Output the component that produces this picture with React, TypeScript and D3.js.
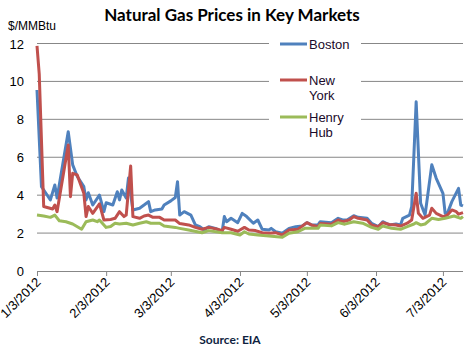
import React, { useEffect, useRef } from 'react';
import * as d3 from 'd3';

// dates are M/D in 2012
const bostonDates = ['1/3', '1/5', '1/7', '1/9', '1/11', '1/12', '1/17', '1/19', '1/21', '1/24', '1/25', '1/26', '1/28', '1/31', '2/2', '2/3', '2/6', '2/8', '2/9', '2/10', '2/12', '2/13', '2/15', '2/18', '2/20', '2/22', '2/23', '2/25', '2/28', '2/29', '3/3', '3/5', '3/6', '3/7', '3/9', '3/12', '3/14', '3/16', '3/18', '3/20', '3/23', '3/26', '3/27', '3/28', '3/30', '4/2', '4/4', '4/6', '4/9', '4/11', '4/13', '4/16', '4/17', '4/19', '4/22', '4/25', '4/28', '5/1', '5/3', '5/5', '5/8', '5/9', '5/14', '5/17', '5/19', '5/21', '5/24', '5/26', '5/30', '6/1', '6/4', '6/6', '6/9', '6/12', '6/14', '6/15', '6/18', '6/19', '6/21', '6/23', '6/25', '6/28', '6/30', '7/3', '7/4', '7/5', '7/7', '7/10', '7/11', '7/12'];
const bostonValues = [9.55, 4.45, 4.1, 3.75, 4.54, 3.85, 7.35, 5.6, 5.0, 4.45, 3.75, 4.13, 3.48, 4.0, 3.13, 3.6, 3.48, 4.18, 3.75, 4.27, 3.85, 4.9, 3.22, 3.31, 3.48, 3.66, 3.13, 3.22, 3.27, 3.48, 3.7, 3.88, 4.71, 2.95, 3.13, 2.95, 2.43, 2.34, 2.16, 2.34, 2.25, 2.07, 2.87, 2.6, 2.78, 2.55, 3.04, 2.87, 2.52, 2.69, 2.2, 2.16, 2.25, 2.07, 1.99, 2.25, 2.34, 2.38, 2.55, 2.43, 2.43, 2.6, 2.55, 2.78, 2.69, 2.69, 2.92, 2.83, 2.78, 2.52, 2.34, 2.6, 2.43, 2.48, 2.43, 2.78, 2.95, 3.4, 8.93, 3.57, 2.95, 5.6, 4.89, 4.1, 3.04, 3.04, 3.66, 4.36, 3.48, 3.43];

const newYorkDates = ['1/3', '1/4', '1/6', '1/10', '1/11', '1/12', '1/17', '1/18', '1/19', '1/21', '1/24', '1/25', '1/26', '1/28', '1/31', '2/2', '2/5', '2/7', '2/9', '2/11', '2/12', '2/14', '2/15', '2/18', '2/20', '2/22', '2/24', '2/27', '2/29', '3/5', '3/7', '3/11', '3/14', '3/17', '3/20', '3/24', '3/26', '3/27', '3/30', '4/2', '4/5', '4/7', '4/10', '4/13', '4/16', '4/19', '4/22', '4/25', '4/29', '5/3', '5/5', '5/8', '5/9', '5/14', '5/17', '5/19', '5/22', '5/24', '5/26', '5/30', '6/1', '6/4', '6/6', '6/9', '6/12', '6/14', '6/17', '6/19', '6/21', '6/22', '6/24', '6/27', '6/28', '6/30', '7/3', '7/5', '7/7', '7/9', '7/10', '7/12'];
const newYorkValues = [11.87, 10.4, 3.4, 3.27, 3.48, 3.13, 6.65, 3.92, 5.15, 5.07, 4.1, 2.87, 3.4, 3.04, 3.54, 2.69, 2.72, 2.78, 3.13, 2.87, 2.95, 5.54, 2.87, 2.78, 2.9, 2.95, 2.83, 2.83, 2.69, 2.69, 2.5, 2.43, 2.3, 2.2, 2.3, 2.2, 2.13, 2.3, 2.2, 2.1, 2.3, 2.16, 2.13, 2.02, 1.99, 2.02, 1.9, 2.16, 2.2, 2.55, 2.43, 2.34, 2.5, 2.47, 2.69, 2.6, 2.69, 2.87, 2.78, 2.69, 2.43, 2.34, 2.55, 2.45, 2.43, 2.37, 2.52, 2.69, 4.1, 3.04, 2.78, 2.95, 3.31, 3.04, 2.87, 2.95, 3.22, 3.13, 3.0, 3.08];

const henryHubDates = ['1/3', '1/6', '1/9', '1/11', '1/13', '1/16', '1/19', '1/23', '1/25', '1/28', '1/30', '1/31', '2/3', '2/5', '2/7', '2/9', '2/12', '2/15', '2/18', '2/21', '2/23', '2/27', '2/29', '3/5', '3/7', '3/11', '3/17', '3/20', '3/26', '3/30', '4/3', '4/5', '4/7', '4/11', '4/16', '4/22', '4/25', '4/29', '5/2', '5/8', '5/9', '5/14', '5/17', '5/20', '5/24', '5/28', '6/1', '6/4', '6/6', '6/10', '6/14', '6/17', '6/20', '6/21', '6/23', '6/25', '6/28', '7/1', '7/4', '7/8', '7/11', '7/12'];
const henryHubValues = [2.95, 2.9, 2.83, 2.95, 2.65, 2.6, 2.48, 2.2, 2.6, 2.69, 2.6, 2.69, 2.3, 2.35, 2.52, 2.48, 2.52, 2.43, 2.52, 2.6, 2.52, 2.52, 2.37, 2.3, 2.25, 2.16, 2.02, 2.13, 2.02, 2.02, 1.9, 2.07, 1.95, 1.9, 1.85, 1.78, 1.99, 2.07, 2.25, 2.25, 2.43, 2.38, 2.55, 2.47, 2.6, 2.52, 2.3, 2.2, 2.37, 2.25, 2.2, 2.34, 2.48, 2.55, 2.43, 2.48, 2.78, 2.72, 2.78, 2.9, 2.78, 2.87];

const seriesNames = ['Boston', 'New York', 'Henry Hub'];
const seriesColors = ['#4F81BD', '#C0504D', '#9BBB59'];
const xTickLabels = ['1/3', '2/3', '3/3', '4/3', '5/3', '6/3', '7/3'];
const yTicks = [0, 2, 4, 6, 8, 10, 12];

const toDate = (s: string) => {
  const [m, d] = s.split('/').map(Number);
  return new Date(2012, m - 1, d);
};

const W = 469;
const H = 353;

const App = () => {
  const svgRef = useRef<SVGSVGElement>(null);

  useEffect(() => {
    const svg = d3.select(svgRef.current);
    svg.selectAll('*').remove();

    const x = d3.scaleTime()
      .domain([toDate('1/3'), toDate('7/12')])
      .range([37, 463]);
    const y = d3.scaleLinear().domain([0, 12]).range([271, 43.5]);

    svg.append('rect').attr('width', W).attr('height', H).attr('fill', '#fff');

    // gridlines
    svg.append('g')
      .selectAll('line')
      .data(yTicks.filter(t => t > 0))
      .enter().append('line')
      .attr('x1', 37).attr('x2', 463)
      .attr('y1', d => y(d)).attr('y2', d => y(d))
      .attr('stroke', '#878787').attr('stroke-width', 1);

    // y labels
    svg.append('g')
      .selectAll('text')
      .data(yTicks)
      .enter().append('text')
      .attr('x', 24).attr('y', d => y(d) + 5)
      .attr('text-anchor', 'end')
      .attr('font-family', 'Liberation Sans, Arial, sans-serif')
      .attr('font-size', 13)
      .attr('fill', '#000')
      .text(d => d);

    // x axis
    const fmt = d3.timeFormat('%-m/%-d/%Y');
    const xAxis = d3.axisBottom(x)
      .tickValues(xTickLabels.map(toDate))
      .tickSize(5)
      .tickFormat(d => fmt(d as Date));
    const gx = svg.append('g')
      .attr('transform', `translate(0,${y(0)})`)
      .call(xAxis);
    gx.select('.domain').attr('stroke', '#878787').attr('d', `M37,0.5H463`);
    gx.selectAll('.tick line').attr('stroke', '#878787');
    gx.selectAll('.tick text')
      .attr('font-family', 'Liberation Sans, Arial, sans-serif')
      .attr('font-size', 13)
      .attr('fill', '#000')
      .attr('text-anchor', 'end')
      .attr('dy', null)
      .attr('y', 0)
      .attr('transform', 'translate(4,12) rotate(-45)');

    // lines
    const sets = [
      [bostonDates, bostonValues],
      [newYorkDates, newYorkValues],
      [henryHubDates, henryHubValues],
    ] as [string[], number[]][];
    const line = d3.line<[Date, number]>()
      .x(d => x(d[0]))
      .y(d => y(d[1]));
    sets.forEach(([ds, vs], i) => {
      const pts = ds.map((d, j) => [toDate(d), vs[j]] as [Date, number]);
      svg.append('path')
        .attr('d', line(pts))
        .attr('fill', 'none')
        .attr('stroke', seriesColors[i])
        .attr('stroke-width', 3)
        .attr('stroke-linejoin', 'round');
    });

    // legend
    const lg = svg.append('g');
    lg.append('rect').attr('x', 269).attr('y', 30).attr('width', 92).attr('height', 112).attr('fill', '#fff');
    const legendRows = [[['Boston'], 44], [['New', 'York'], 80], [['Henry', 'Hub'], 117]] as [string[], number][];
    legendRows.forEach(([lines, ly], i) => {
      lg.append('line')
        .attr('x1', 280).attr('x2', 307)
        .attr('y1', ly).attr('y2', ly)
        .attr('stroke', seriesColors[i]).attr('stroke-width', 3);
      const t = lg.append('text')
        .attr('x', 309).attr('y', ly + 5)
        .attr('font-family', 'Liberation Sans, Arial, sans-serif')
        .attr('font-size', 13)
        .attr('fill', '#1a0a2a');
      lines.forEach((s, k) => {
        t.append('tspan').attr('x', 309).attr('dy', k === 0 ? 0 : 15).text(s);
      });
    });

    // title etc.
    svg.append('text')
      .attr('x', 232).attr('y', 21)
      .attr('text-anchor', 'middle')
      .attr('font-family', 'Lato, Open Sans, sans-serif')
      .attr('font-weight', 'bold')
      .attr('font-size', 17)
      .attr('fill', '#000')
      .text('Natural Gas Prices in Key Markets');

    svg.append('text')
      .attr('x', 8).attr('y', 30)
      .attr('font-family', 'Liberation Sans, Arial, sans-serif')
      .attr('font-size', 12)
      .attr('fill', '#000')
      .text('$/MMBtu');

    svg.append('text')
      .attr('x', 230).attr('y', 344)
      .attr('text-anchor', 'middle')
      .attr('font-family', 'Lato, Open Sans, sans-serif')
      .attr('font-weight', 'bold')
      .attr('font-size', 12)
      .attr('fill', '#0f1f3f')
      .text('Source: EIA');
  }, []);

  return (
    <svg ref={svgRef} width={W} height={H}
      style={{ position: 'absolute', left: 0, top: 0, display: 'block' }} />
  );
};

export default App;
